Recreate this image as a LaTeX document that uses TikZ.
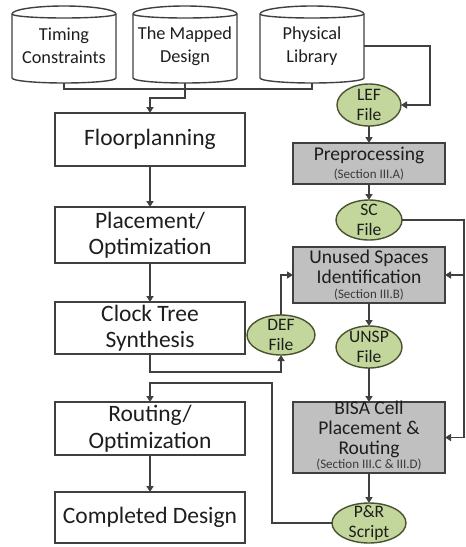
\documentclass[tikz,border=0pt]{standalone}
\usepackage{fontspec}
\setmainfont{Carlito}
\usetikzlibrary{arrows.meta,shapes.geometric,calc}
\definecolor{ln}{HTML}{404040}
\definecolor{grayfill}{HTML}{C0C0C0}
\definecolor{greenfill}{HTML}{C3D69B}
\definecolor{greenline}{HTML}{4A5230}
\definecolor{txt}{HTML}{1E1E1E}
\definecolor{sectxt}{HTML}{3A3A3A}
\begin{document}
\begin{tikzpicture}[x=1pt,y=-1pt,
  conn/.style={draw=ln,line width=1.6pt},
  arr/.style={conn,-{Triangle[length=6pt,width=7pt]}},
  flowbox/.style={draw=ln,line width=1.4pt,fill=white,minimum width=190pt,inner sep=0pt,outer sep=0pt,align=center,text=txt,font=\fontsize{23.5}{26.5}\selectfont},
  graybox/.style={draw=ln,line width=1.4pt,fill=grayfill,minimum width=152pt,inner sep=0pt,outer sep=0pt},
  gtext/.style={inner sep=0pt,align=center,text=txt,font=\fontsize{19.5}{20}\selectfont},
  stext/.style={inner sep=0pt,text=sectxt,font=\fontsize{13}{15}\selectfont},
  ell/.style={ellipse,draw=greenline,line width=1.4pt,fill=greenfill,inner sep=0pt,outer sep=0pt},
  elltext/.style={inner sep=0pt,align=center,text=txt,font=\fontsize{17.5}{20}\selectfont},
  cyltext/.style={minimum width=104pt,minimum height=64pt,inner sep=0pt,outer sep=0pt,align=center,text=txt,font=\fontsize{18.3}{23}\selectfont},
  cylline/.style={draw=ln,line width=1.4pt}
]
\useasboundingbox (0,0) rectangle (466,547);

% databases
\node[cyltext] (tc) at (64,46) {Timing\\Constraints};
\node[cyltext] (md) at (185,46) {The Mapped\\Design};
\node[cyltext] (pl) at (312,46) {Physical\\Library};
\foreach \n in {tc,md,pl}{
  \draw[cylline] (\n.north west) -- (\n.south west)
    arc[start angle=180,end angle=360,x radius=52pt,y radius=5pt]
    -- (\n.north east)
    arc[start angle=0,end angle=180,x radius=52pt,y radius=8pt] -- cycle;
  \draw[cylline] (\n.north west) arc[start angle=180,end angle=360,x radius=52pt,y radius=4pt];
}

% left flow
\node[flowbox,minimum height=53pt] (fp) at (150,139.5) {Floorplanning};
\node[flowbox,minimum height=56pt] (po) at (150,235) {Placement/\\Optimization};
\node[flowbox,minimum height=52pt] (cts) at (150,328) {Clock Tree\\Synthesis};
\node[flowbox,minimum height=53pt] (ro) at (150,428.5) {Routing/\\Optimization};
\node[flowbox,minimum height=51pt] (cd) at (150,517.5) {Completed Design};

% right flow
\node[ell,minimum width=64pt,minimum height=42pt,label={[elltext]center:LEF\\File}] (lef) at (369,105) {};
\node[graybox,minimum height=41pt] (pre) at (369,163.5) {};
\node[gtext] (pret) at (369,155) {Preprocessing};
\node[stext] (pres) at (369,175) {(Section III.A)};
\node[ell,minimum width=66pt,minimum height=40pt,label={[elltext]center:SC\\File}] (sc) at (369,220) {};
\node[graybox,minimum height=56pt] (un) at (369,275) {};
\node[gtext] (unt) at (369,266.5) {Unused Spaces\\Identification};
\node[stext] (uns) at (369,294.5) {(Section III.B)};
\node[ell,minimum width=68pt,minimum height=40pt,label={[elltext]center:DEF\\File}] (def) at (281,335) {};
\node[ell,minimum width=66pt,minimum height=42pt,label={[elltext]center:UNSP\\File}] (unsp) at (369,347) {};
\node[graybox,minimum height=71pt] (bisa) at (369,437.5) {};
\node[gtext] (bisat) at (369,429.5) {BISA Cell\\Placement \&\\Routing};
\node[stext] (bisas) at (369,465) {(Section III.C \& III.D)};
\node[ell,minimum width=74pt,minimum height=40pt,label={[elltext]center:P\&R\\Script}] (pr) at (369,523) {};

% connectors: databases
\coordinate (bus) at (185,89);
\coordinate (mbend) at (185,98);
\coordinate (tcb) at ($(tc.south)+(0,5)$);
\coordinate (mdb) at ($(md.south)+(0,5)$);
\coordinate (plb) at ($(pl.south)+(0,5)$);
\draw[conn] (tcb) |- (bus) -| (plb);
\draw[arr] (mdb) -- (mbend) -| (fp.north);
\draw[arr] (pl.east) -- ++(66,0) |- (lef.east);

% left chain
\draw[arr] (fp) -- (po);
\draw[arr] (po) -- (cts);
\draw[arr] (ro) -- (cd);
\coordinate (c1) at (281,372);
\draw[arr] (cts.south) |- (c1) -- (def.south);
\draw[arr] (def.north) |- (un.west);
\coordinate (c2) at (272,383);
\draw[arr] (pr.west) -| (c2) -| (ro.north);

% right chain
\draw[arr] (lef) -- (pre);
\draw[arr] (pre) -- (sc);
\coordinate (rail) at (464,220);
\draw[arr] (sc.east) -- (rail) |- (bisa.east);
\draw[arr] (rail |- un.east) -- (un.east);
\draw[arr] (un) -- (unsp);
\draw[arr] (unsp) -- (bisa);
\draw[arr] (bisa) -- (pr);
\end{tikzpicture}
\end{document}
